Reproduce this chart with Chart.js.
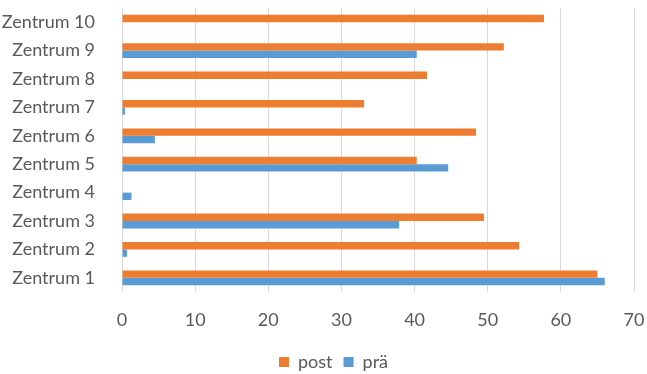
<!DOCTYPE html>
<html>
<head>
<meta charset="utf-8">
<script src="https://cdn.jsdelivr.net/npm/chart.js@4/dist/chart.umd.min.js"></script>
<style>
  html, body { margin: 0; padding: 0; background: #ffffff; }
  #wrap { width: 647px; height: 374px; }
</style>
</head>
<body>
<div id="wrap"><canvas id="chart" width="647" height="374"></canvas></div>
<script>
// Centres, listed from Zentrum 1 upwards
const categories = ['Zentrum 1', 'Zentrum 2', 'Zentrum 3', 'Zentrum 4', 'Zentrum 5',
                    'Zentrum 6', 'Zentrum 7', 'Zentrum 8', 'Zentrum 9', 'Zentrum 10'];
const postValues = [65.0, 54.3, 49.5, 0, 40.3, 48.4, 33.1, 41.7, 52.2, 57.7];
const praeValues = [66.0, 0.7, 37.9, 1.3, 44.6, 4.5, 0.4, 0, 40.3, 0];
const xTicks = [0, 10, 20, 30, 40, 50, 60, 70];

const textColor = '#595959';
const gridColor = '#d9d9d9';
const fontFamily = 'Lato, "Open Sans", sans-serif';
const fontSize = 18;

// Places the legend row below the value axis labels
const legendPlacement = {
  id: 'legendPlacement',
  beforeDraw(chart) {
    const lg = chart.legend;
    if (!lg) return;
    const h = lg.height;
    lg.top = 342;
    lg.bottom = lg.top + h;
    lg.left = 268;
    lg.right = chart.width;
    lg.width = lg.right - lg.left;
  }
};

new Chart(document.getElementById('chart'), {
  type: 'bar',
  data: {
    labels: categories,
    datasets: [
      { label: 'post', data: postValues, backgroundColor: '#ED7D31', borderWidth: 0 },
      { label: 'prä', data: praeValues, backgroundColor: '#5B9BD5', borderWidth: 0 }
    ]
  },
  plugins: [legendPlacement],
  options: {
    indexAxis: 'y',
    responsive: false,
    animation: false,
    devicePixelRatio: 1,
    datasets: { bar: { barPercentage: 1, categoryPercentage: 0.52 } },
    layout: { padding: { top: 8, right: 13, left: 0, bottom: 0 } },
    scales: {
      x: {
        min: xTicks[0],
        max: xTicks[xTicks.length - 1],
        afterBuildTicks: (scale) => { scale.ticks = xTicks.map(v => ({ value: v })); },
        grid: { color: gridColor, lineWidth: 1, drawTicks: false },
        border: { display: false },
        ticks: { color: textColor, padding: 17, font: { family: fontFamily, size: fontSize } },
        afterFit: (scale) => {
          scale.height = 43;
          scale.paddingLeft = 0;
          scale.paddingRight = 0;
        }
      },
      y: {
        reverse: true,
        grid: { display: false },
        border: { display: false },
        ticks: { color: textColor, padding: 19, font: { family: fontFamily, size: fontSize } },
        afterFit: (scale) => {
          scale.width = 122;
          scale.paddingTop = 0;
          scale.paddingBottom = 0;
        }
      }
    },
    plugins: {
      legend: {
        position: 'bottom',
        align: 'start',
        labels: {
          color: textColor,
          boxWidth: 10,
          boxHeight: 10,
          padding: 11,
          font: { family: fontFamily, size: fontSize }
        }
      },
      tooltip: { enabled: false }
    }
  }
});
</script>
</body>
</html>
